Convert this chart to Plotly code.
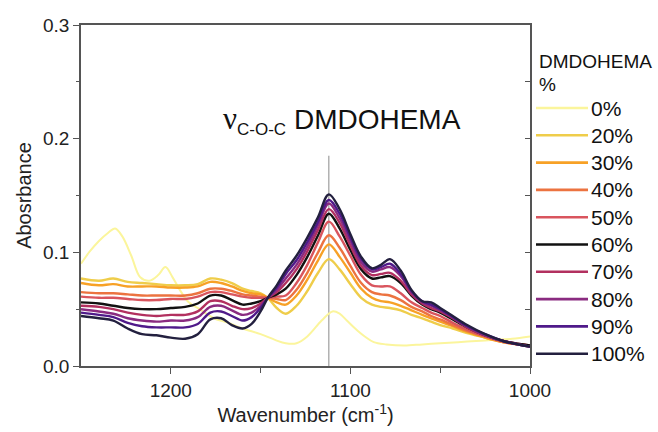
import plotly.graph_objects as go

# ---------------- data ----------------
wn = [1250, 1240, 1232, 1224, 1216, 1208, 1200, 1192, 1185, 1178, 1172, 1166, 1160,
      1155, 1150, 1146, 1141, 1136, 1130, 1124, 1118, 1112, 1106, 1100, 1094, 1088,
      1083, 1078, 1072, 1066, 1060, 1055, 1050, 1043, 1035, 1025, 1015, 1000]

wn_0 = [1250, 1245, 1240, 1235, 1231, 1227, 1222, 1217, 1212, 1207, 1203, 1199, 1195,
        1190, 1184, 1176, 1168, 1160, 1150, 1142, 1136, 1130, 1124, 1116, 1110, 1106,
        1102, 1096, 1092, 1087, 1080, 1070, 1060, 1050, 1040, 1030, 1020, 1010, 1000]
abs_0 = [0.090, 0.101, 0.110, 0.117, 0.121, 0.114, 0.097, 0.078, 0.075, 0.080, 0.087,
         0.078, 0.067, 0.056, 0.050, 0.042, 0.038, 0.033, 0.028, 0.023, 0.020, 0.020,
         0.026, 0.040, 0.048, 0.046, 0.040, 0.031, 0.026, 0.021, 0.019, 0.018, 0.019,
         0.020, 0.021, 0.022, 0.023, 0.024, 0.026]

abs_20 = [0.077, 0.075, 0.077, 0.074, 0.073, 0.072, 0.071, 0.071, 0.072, 0.077, 0.076,
          0.073, 0.068, 0.066, 0.064, 0.060, 0.051, 0.046, 0.053, 0.066, 0.082, 0.094,
          0.085, 0.072, 0.060, 0.054, 0.052, 0.051, 0.049, 0.045, 0.042, 0.039, 0.036,
          0.033, 0.029, 0.025, 0.021, 0.018]
abs_30 = [0.073, 0.071, 0.072, 0.070, 0.070, 0.070, 0.069, 0.069, 0.070, 0.074, 0.073,
          0.070, 0.066, 0.064, 0.063, 0.060, 0.056, 0.054, 0.062, 0.076, 0.093, 0.107,
          0.096, 0.082, 0.068, 0.060, 0.057, 0.056, 0.053, 0.049, 0.045, 0.042, 0.039,
          0.035, 0.030, 0.025, 0.021, 0.018]
abs_40 = [0.065, 0.064, 0.064, 0.063, 0.062, 0.062, 0.062, 0.062, 0.064, 0.068, 0.068,
          0.066, 0.063, 0.062, 0.061, 0.060, 0.059, 0.058, 0.067, 0.082, 0.100, 0.115,
          0.104, 0.088, 0.073, 0.065, 0.063, 0.062, 0.058, 0.052, 0.048, 0.044, 0.041,
          0.036, 0.031, 0.026, 0.021, 0.018]
abs_50 = [0.061, 0.060, 0.060, 0.059, 0.058, 0.058, 0.059, 0.059, 0.061, 0.065, 0.065,
          0.063, 0.061, 0.060, 0.060, 0.060, 0.061, 0.062, 0.073, 0.089, 0.109, 0.127,
          0.114, 0.097, 0.080, 0.071, 0.070, 0.070, 0.064, 0.056, 0.051, 0.047, 0.044,
          0.038, 0.032, 0.026, 0.022, 0.018]
abs_60 = [0.056, 0.055, 0.053, 0.051, 0.050, 0.050, 0.051, 0.052, 0.055, 0.062, 0.062,
          0.058, 0.054, 0.055, 0.057, 0.060, 0.063, 0.068, 0.080, 0.096, 0.115, 0.134,
          0.121, 0.102, 0.085, 0.077, 0.078, 0.079, 0.073, 0.062, 0.054, 0.050, 0.047,
          0.041, 0.034, 0.027, 0.022, 0.018]
abs_70 = [0.053, 0.052, 0.050, 0.047, 0.045, 0.044, 0.045, 0.045, 0.048, 0.057, 0.057,
          0.053, 0.050, 0.051, 0.055, 0.060, 0.065, 0.073, 0.085, 0.101, 0.120, 0.138,
          0.126, 0.106, 0.088, 0.080, 0.081, 0.082, 0.075, 0.063, 0.055, 0.051, 0.048,
          0.042, 0.034, 0.027, 0.022, 0.017]
abs_80 = [0.050, 0.048, 0.046, 0.042, 0.040, 0.039, 0.040, 0.040, 0.043, 0.052, 0.053,
          0.049, 0.045, 0.047, 0.053, 0.060, 0.067, 0.077, 0.089, 0.105, 0.124, 0.143,
          0.130, 0.110, 0.091, 0.083, 0.085, 0.087, 0.079, 0.065, 0.056, 0.053, 0.049,
          0.043, 0.035, 0.027, 0.022, 0.017]
abs_90 = [0.047, 0.045, 0.043, 0.038, 0.035, 0.034, 0.034, 0.034, 0.037, 0.047, 0.048,
          0.044, 0.040, 0.043, 0.051, 0.060, 0.069, 0.081, 0.093, 0.109, 0.127, 0.146,
          0.134, 0.113, 0.094, 0.085, 0.087, 0.090, 0.081, 0.066, 0.057, 0.054, 0.050,
          0.043, 0.035, 0.028, 0.022, 0.017]
abs_100 = [0.044, 0.042, 0.040, 0.033, 0.028, 0.027, 0.025, 0.024, 0.028, 0.041, 0.042,
           0.036, 0.033, 0.037, 0.048, 0.060, 0.071, 0.084, 0.097, 0.113, 0.131, 0.151,
           0.138, 0.116, 0.096, 0.086, 0.089, 0.094, 0.084, 0.067, 0.057, 0.056, 0.051,
           0.044, 0.036, 0.028, 0.022, 0.017]

labels = ["0%", "20%", "30%", "40%", "50%", "60%", "70%", "80%", "90%", "100%"]
colors = ["#fbf59c", "#efcd4a", "#f7a126", "#ec7340", "#d9555e", "#111111",
          "#b2305f", "#8a2b80", "#4f1a8a", "#23203f"]
legend_title = ["DMDOHEMA", "%"]

x_ticks = [1200, 1100, 1000]
x_minor = [1150, 1050]
x_range = [1250, 1000]
y_range = [0, 0.3]
marker_wn = 1112
marker_top = 0.185
label_wn = 1172
label_abs = 0.216

# ---------------- figure ----------------
series = [(wn_0, abs_0), (wn, abs_20), (wn, abs_30), (wn, abs_40), (wn, abs_50),
          (wn, abs_60), (wn, abs_70), (wn, abs_80), (wn, abs_90), (wn, abs_100)]

FONT = "Arial, Liberation Sans, sans-serif"
fig = go.Figure()
for i, ((xs, ys), lab, col) in enumerate(zip(series, labels, colors)):
    fig.add_trace(go.Scatter(
        x=xs, y=ys, mode="lines", name=lab, showlegend=False,
        line=dict(color=col, width=2.0 if i == 0 else 2.4, shape="spline", smoothing=1.0),
        yaxis="y2" if i == len(series) - 1 else "y",
    ))

# marker line for the C-O-C band
fig.add_shape(type="line", xref="x", yref="y", x0=marker_wn, x1=marker_wn,
              y0=y_range[0], y1=marker_top, line=dict(color="#8a8a8a", width=1),
              layer="below")

fig.add_annotation(
    x=label_wn, y=label_abs, xref="x", yref="y", xanchor="left", yanchor="middle",
    text=('<span style="font-family:Liberation Serif, Times New Roman, serif;'
          'font-size:31px">ν</span><sub><span style="font-size:17px">C-O-C</span></sub>'
          ' DMDOHEMA'),
    showarrow=False, font=dict(family=FONT, size=28, color="#111111"),
)

# custom legend (plot area spans 81..530 px horizontally, 25..366 px vertically)
L, R, T, B = 81, 530, 25, 366
def px_x(p):
    return (p - L) / (R - L)
def px_y(p):
    return (B - p) / (B - T)

for j, t in enumerate(legend_title):
    fig.add_annotation(x=px_x(537), y=px_y(61 + 24 * j), xref="paper", yref="paper",
                       xanchor="left", yanchor="middle", text=t, showarrow=False,
                       font=dict(family=FONT, size=19, color="#111111"))
for i, (lab, col) in enumerate(zip(labels, colors)):
    yy = px_y(108 + 27.3 * i)
    fig.add_shape(type="line", xref="paper", yref="paper", x0=px_x(536), x1=px_x(588),
                  y0=yy, y1=yy, line=dict(color=col, width=2.6))
    fig.add_annotation(x=px_x(589), y=yy, xref="paper", yref="paper",
                       xanchor="left", yanchor="middle", text=lab, showarrow=False,
                       font=dict(family=FONT, size=21, color="#111111"))

axis_col = "#555555"
fig.update_layout(
    width=658, height=432,
    margin=dict(l=L, r=658 - R, t=T, b=432 - B),
    paper_bgcolor="white", plot_bgcolor="white",
    font=dict(family=FONT, color="#222222", size=19),
    showlegend=False,
    xaxis=dict(
        range=x_range, tickvals=x_ticks, ticks="outside", ticklen=6, tickwidth=1.2,
        tickcolor=axis_col, showline=True, linecolor=axis_col, linewidth=1.5,
        mirror=True, showgrid=False, zeroline=False, automargin=False,
        tickfont=dict(size=19),
        minor=dict(tickvals=x_minor, ticks="outside", ticklen=5, tickcolor=axis_col),
        title=dict(text="Wavenumber (cm<sup>-1</sup>)", font=dict(size=20), standoff=8),
    ),
    yaxis=dict(
        range=y_range, dtick=0.1, tickformat=".1f", ticks="outside", ticklen=6,
        tickwidth=1.2, tickcolor=axis_col, showline=True, linecolor=axis_col,
        linewidth=1.5, mirror=True, showgrid=False, zeroline=False, automargin=False,
        tickfont=dict(size=19),
        minor=dict(dtick=0.05, ticks="outside", ticklen=3, tickcolor=axis_col),
        title=dict(text="Abosrbance", font=dict(size=20), standoff=6),
    ),
    yaxis2=dict(
        range=y_range, overlaying="y", side="right", dtick=0.05, ticks="inside",
        ticklen=5, tickcolor=axis_col, showticklabels=False, showgrid=False,
        zeroline=False, showline=False, automargin=False,
    ),
)

fig.write_html("out.html", config={"displayModeBar": False},
               post_script="document.body.style.margin='0';document.body.style.padding='0';")
